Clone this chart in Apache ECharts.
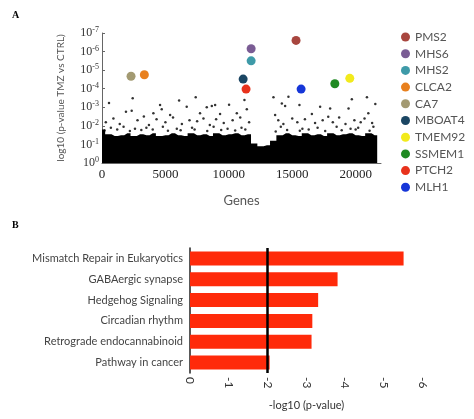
<!DOCTYPE html>
<html>
<head>
	<meta charset="UTF-8" />
	<script src="https://cdn.jsdelivr.net/npm/echarts@6/dist/echarts.min.js"></script>
	<style type="text/css">
		body { margin: 0; background-color: #ffffff; }
		#chart { width: 474px; height: 419px; }
	</style>
</head>
<body>
	<div id="chart"></div>
	<script>
		//--------------------------- 資料 ---------------------------//

		// 標示基因 (gene index, -log10 p)
		const geneNames = ['PMS2', 'MHS6', 'MHS2', 'CLCA2', 'CA7', 'MBOAT4', 'TMEM92', 'SSMEM1', 'PTCH2', 'MLH1'];
		const geneColors = ['#a8463f', '#7a5c94', '#3e9aa8', '#e8801e', '#a39a72', '#1b4663', '#f2ea1c', '#1f8a22', '#e8321c', '#1636d8'];
		const geneX = [15300, 11760, 11760, 3340, 2290, 11130, 19540, 18360, 11360, 15700];
		const geneY = [6.6, 6.15, 5.5, 4.75, 4.67, 4.52, 4.56, 4.27, 3.98, 3.98];

		// 密集黑點區塊上緣
		const bandX = [0, 500, 1000, 1500, 2000, 2500, 3000, 3500, 4000, 4500, 5000, 5500, 6000, 6500, 7000, 7500, 8000, 8500, 9000, 9500, 10000, 10500, 11000, 11500, 12000, 12500, 13000, 13500, 14000, 14500, 15000, 15500, 16000, 16500, 17000, 17500, 18000, 18500, 19000, 19500, 20000, 20500, 21000, 21500, 21700];
		const bandTop = [1.8, 1.55, 1.45, 1.5, 1.6, 1.45, 1.55, 1.5, 1.6, 1.45, 1.5, 1.6, 1.5, 1.45, 1.6, 1.5, 1.55, 1.45, 1.6, 1.5, 1.55, 1.6, 1.5, 1.55, 1.05, 0.9, 0.95, 1.2, 1.5, 1.6, 1.5, 1.45, 1.6, 1.5, 1.55, 1.45, 1.6, 1.5, 1.55, 1.6, 1.5, 1.45, 1.6, 1.5, 1.5];

		// 散落黑點
		const dotX = [2420, 7390, 4580, 6080, 550, 4710, 6680, 8260, 8660, 8920, 10020, 1890, 2340, 4050, 5370, 7730, 9310, 10630,
			13520, 14700, 14180, 14440, 15570, 17200, 17990, 19700, 20890, 21550, 11230, 19440, 11420, 13650, 16550, 17840, 21000,
			300, 900, 1400, 2800, 3300, 3700, 4300, 5000, 5600, 6300, 6900, 7500, 8000, 8500, 9000, 9600, 10300, 10900, 11600,
			13900, 14300, 15000, 15400, 16000, 16800, 17400, 18200, 18700, 19200, 19900, 20400, 20700, 21300,
			700, 1700, 2600, 3500, 4800, 5900, 7100, 8800, 9900, 11000, 14100, 15800, 17000, 18500, 19600, 20200, 21400,
			200, 1200, 2200, 3100, 4000, 5200, 6200, 7300, 8300, 9400, 10500, 11300, 13700, 14600, 15600, 16300, 17600, 18900, 20000, 21100];
		const dotY = [3.48, 3.54, 3.12, 3.36, 3.23, 2.89, 3.03, 3.0, 3.07, 3.12, 3.14, 2.76, 2.82, 2.68, 2.58, 2.68, 2.64, 2.68,
			3.54, 3.57, 3.21, 3.07, 3.12, 3.03, 2.94, 3.43, 3.54, 3.18, 3.39, 2.94, 2.89, 2.58, 2.64, 2.49, 2.68,
			2.2, 2.4, 2.1, 2.3, 2.5, 2.05, 2.35, 2.2, 2.45, 2.1, 2.3, 2.25, 2.4, 2.05, 2.35, 2.15, 2.3, 2.45, 2.2,
			2.3, 2.1, 2.4, 2.2, 2.35, 2.15, 2.3, 2.2, 2.45, 2.1, 2.3, 2.2, 2.4, 2.15,
			1.9, 1.95, 1.85, 1.9, 1.95, 1.85, 1.9, 1.95, 1.85, 1.9, 1.95, 1.85, 1.9, 1.95, 1.85, 1.9, 1.95,
			1.75, 1.8, 1.72, 1.78, 1.8, 1.74, 1.76, 1.8, 1.72, 1.78, 1.75, 1.8, 1.7, 1.78, 1.74, 1.8, 1.72, 1.76, 1.8, 1.74];

		// B: 路徑富集
		const pathways = ['Mismatch Repair in Eukaryotics', 'GABAergic synapse', 'Hedgehog Signaling', 'Circadian rhythm', 'Retrograde endocannabinoid', 'Pathway in cancer'];
		const pathwayValues = [5.5, 3.8, 3.3, 3.15, 3.13, 2.05];
		const threshold = 2;

		//--------------------------- 圖表 ---------------------------//

		var chart = echarts.init(document.getElementById('chart'));

		var series = [
			{
				type: 'line', xAxisIndex: 0, yAxisIndex: 0, step: 'middle', symbol: 'none',
				data: bandX.map((x, i) => [x, bandTop[i]]),
				lineStyle: { width: 0 }, areaStyle: { color: '#000', opacity: 1 }, silent: true
			},
			{
				type: 'scatter', xAxisIndex: 0, yAxisIndex: 0, symbolSize: 2.5,
				data: dotX.map((x, i) => [x, dotY[i]]),
				itemStyle: { color: '#000' }
			}
		];
		geneNames.forEach((n, i) => {
			series.push({
				name: n, type: 'scatter', xAxisIndex: 0, yAxisIndex: 0, symbolSize: 9,
				data: [[geneX[i], geneY[i]]], itemStyle: { color: geneColors[i], opacity: 1 }
			});
		});
		series.push({
			type: 'bar', xAxisIndex: 1, yAxisIndex: 1, barWidth: 14,
			data: pathwayValues, itemStyle: { color: '#ff2a0a' },
			markLine: {
				symbol: 'none', silent: true, label: { show: false },
				lineStyle: { color: '#000', width: 2.5, type: 'solid' },
				data: [{ xAxis: threshold }]
			}
		});

		chart.setOption({
			animation: false,
			textStyle: { fontFamily: 'Lato' },
			graphic: [
				{ type: 'text', left: 12, top: 10, style: { text: 'A', font: 'bold 10px "Liberation Serif"', fill: '#000' } },
				{ type: 'text', left: 12, top: 220, style: { text: 'B', font: 'bold 10px "Liberation Serif"', fill: '#000' } }
			],
			legend: {
				data: geneNames, orient: 'vertical', left: 396, top: 26, itemGap: 4.7,
				icon: 'circle', itemWidth: 9, itemHeight: 9,
				textStyle: { color: '#555', fontSize: 12, fontFamily: 'Lato' }
			},
			grid: [
				{ left: 102, top: 33, width: 279, height: 130 },
				{ left: 190, top: 248, width: 233, height: 125 }
			],
			xAxis: [
				{
					gridIndex: 0, type: 'value', min: 0, max: 22000, interval: 5000,
					name: 'Genes', nameLocation: 'middle', nameGap: 31,
					nameTextStyle: { color: '#555', fontSize: 13 },
					axisLine: { lineStyle: { color: '#666' } }, axisTick: { show: false },
					axisLabel: { color: '#222', fontSize: 13, fontFamily: 'Liberation Serif', margin: 5, showMaxLabel: false, formatter: v => String(v) },
					splitLine: { show: false }
				},
				{
					gridIndex: 1, type: 'value', min: 0, max: 6, interval: 1,
					name: '-log10 (p-value)', nameLocation: 'middle', nameGap: 27,
					nameTextStyle: { color: '#333', fontSize: 11 },
					axisLine: { lineStyle: { color: '#222', width: 1.5 } },
					axisTick: { lineStyle: { color: '#222' }, length: 4 },
					axisLabel: { color: '#333', fontSize: 12, rotate: -90, margin: 4, formatter: v => v == 0 ? '0' : '-' + v },
					splitLine: { show: false }
				}
			],
			yAxis: [
				{
					gridIndex: 0, type: 'value', min: 0, max: 7, interval: 1,
					name: 'log10 (p-value TMZ vs CTRL)', nameLocation: 'middle', nameGap: 36,
					nameTextStyle: { color: '#555', fontSize: 10 },
					axisLine: { show: true, lineStyle: { color: '#666' } },
					axisTick: { show: true, inside: true, length: 3 },
					axisLabel: {
						margin: 3,
						formatter: v => '{b|10}{s|' + (v == 0 ? '0' : '-' + v) + '}',
						rich: {
							b: { fontSize: 12, color: '#333', fontFamily: 'Liberation Serif' },
							s: { fontSize: 8, color: '#333', fontFamily: 'Liberation Serif', padding: [0, 0, 6, 0] }
						}
					},
					splitLine: { show: false }
				},
				{
					gridIndex: 1, type: 'category', inverse: true, data: pathways,
					axisLine: { lineStyle: { color: '#222', width: 1.5 } },
					axisTick: { alignWithLabel: true, lineStyle: { color: '#222' }, length: 3 },
					axisLabel: { color: '#444', fontSize: 11, margin: 7 }
				}
			],
			series: series
		});
	</script>
</body>
</html>
